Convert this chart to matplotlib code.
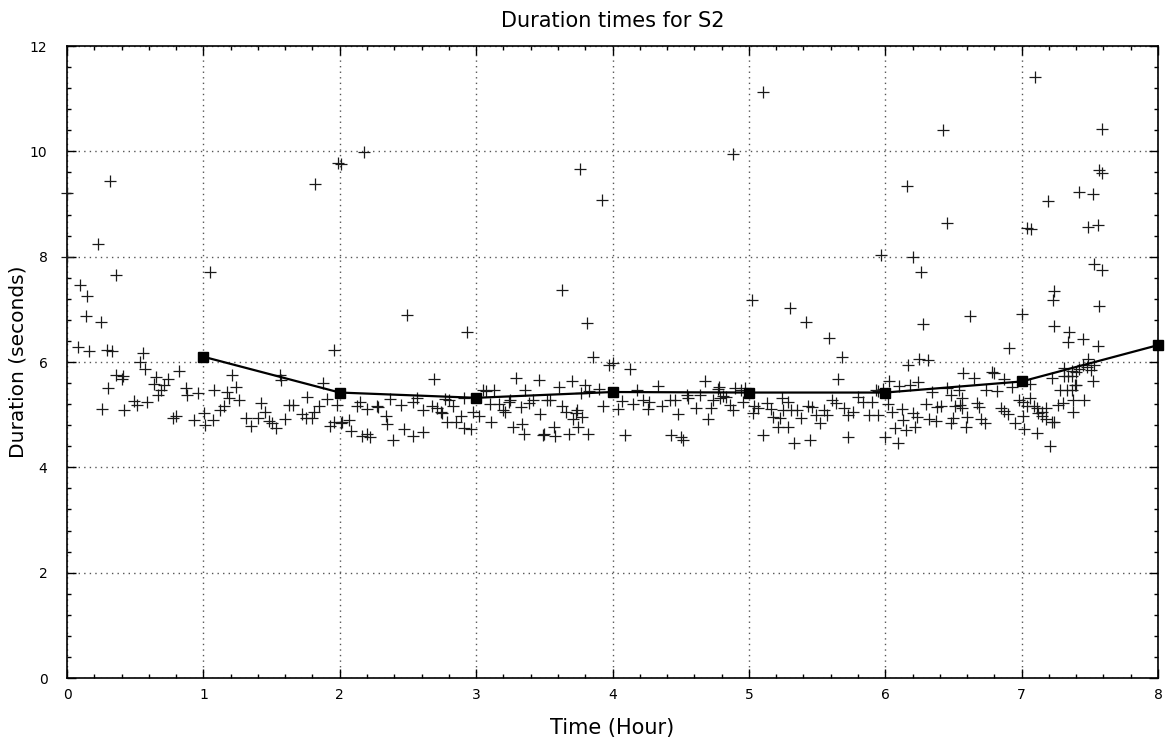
import matplotlib
matplotlib.use('Agg')
import matplotlib.pyplot as plt
from matplotlib.ticker import MultipleLocator

# hourly means
mean_x = [1, 2, 3, 4, 5, 6, 7, 8]
mean_y = [6.1, 5.42, 5.32, 5.43, 5.42, 5.42, 5.63, 6.32]

# individual durations (time in hours, duration in seconds)
pts = [
    # outliers
    (0.0, 9.2), (0.0, 8.0), (0.23, 8.25), (0.315, 9.43), (0.36, 7.65), (1.05, 7.71),
    (1.82, 9.38), (1.99, 9.78), (2.01, 9.76), (2.18, 9.98), (3.76, 9.67), (3.92, 9.07),
    (4.88, 9.95), (5.10, 11.13), (5.97, 8.03), (6.16, 9.35), (6.20, 8.0), (6.26, 7.71),
    (6.42, 10.41), (6.45, 8.64), (7.10, 11.41), (7.59, 10.43), (7.57, 9.65), (7.59, 9.59),
    (7.42, 9.23), (7.52, 9.19), (7.19, 9.05), (7.04, 8.54), (7.07, 8.53), (7.49, 8.57),
    (7.56, 8.61), (7.53, 7.87), (7.59, 7.75),
    # 0 - 1.6 h
    (0.095, 7.46), (0.15, 7.26), (0.14, 6.88), (0.25, 6.76), (0.083, 6.29), (0.16, 6.2),
    (0.29, 6.23), (0.33, 6.2), (0.56, 6.18), (0.535, 6.0), (0.575, 5.87), (0.36, 5.76),
    (0.41, 5.74), (0.40, 5.67), (0.30, 5.51), (0.26, 5.10), (0.42, 5.09), (0.49, 5.26),
    (0.51, 5.19), (0.59, 5.24), (0.65, 5.71), (0.74, 5.68), (0.64, 5.58), (0.71, 5.56),
    (0.69, 5.47), (0.67, 5.37), (0.82, 5.83), (0.87, 5.50), (0.88, 5.37), (0.96, 5.42),
    (0.78, 4.93), (0.80, 4.98), (0.93, 4.90), (1.005, 5.03), (1.01, 4.81), (1.07, 4.90),
    (1.08, 5.47), (1.17, 5.43), (1.21, 5.75), (1.24, 5.52), (1.19, 5.31), (1.26, 5.28),
    (1.12, 5.09), (1.15, 5.16), (1.31, 4.93), (1.35, 4.79), (1.42, 5.22), (1.45, 5.05),
    (1.40, 4.93), (1.48, 4.88), (1.50, 4.84), (1.53, 4.74), (1.56, 5.76), (1.57, 5.66),
    # 1.6 - 2 h
    (1.96, 6.22), (1.875, 5.61), (1.76, 5.33), (1.91, 5.30), (1.98, 5.19), (1.63, 5.19),
    (1.655, 5.19), (1.72, 5.01), (1.75, 4.94), (1.80, 4.94), (1.81, 5.06), (1.85, 5.16),
    (1.60, 4.92), (1.925, 4.78), (1.96, 4.86),
    # 2 - 3.2 h
    (2.49, 6.90), (2.93, 6.57), (2.69, 5.68), (2.01, 4.84), (2.02, 4.87), (2.07, 4.90),
    (2.08, 4.69), (2.16, 4.60), (2.2, 4.63), (2.22, 4.57), (2.125, 5.17), (2.15, 5.24),
    (2.20, 5.10), (2.27, 5.16), (2.28, 5.14), (2.34, 4.98), (2.345, 4.82), (2.39, 4.52),
    (2.37, 5.30), (2.45, 5.19), (2.47, 4.73), (2.535, 5.25), (2.57, 5.31), (2.54, 4.60),
    (2.61, 4.67), (2.61, 5.08), (2.68, 5.17), (2.71, 5.12), (2.74, 5.06), (2.75, 5.04),
    (2.77, 5.30), (2.80, 5.28), (2.83, 5.17), (2.79, 4.86), (2.85, 4.87), (2.89, 4.98),
    (2.91, 4.74), (2.96, 4.73), (2.91, 5.31), (2.98, 5.05), (3.02, 4.97), (3.05, 5.47),
    (3.07, 5.44), (3.13, 5.47), (3.11, 4.86), (3.10, 5.2), (3.17, 5.2), (3.20, 5.09),
    # 3.2 - 4.8 h
    (3.63, 7.36), (3.81, 6.74), (3.86, 6.10), (3.975, 5.95), (4.0, 5.99), (4.13, 5.87),
    (3.29, 5.70), (3.46, 5.66), (3.70, 5.64), (3.36, 5.47), (3.61, 5.52), (3.80, 5.56),
    (3.90, 5.49), (3.77, 5.41), (3.83, 5.44), (3.24, 5.24), (3.25, 5.28), (3.21, 5.05),
    (3.33, 5.14), (3.39, 5.22), (3.42, 5.28), (3.52, 5.28), (3.54, 5.27), (3.47, 5.01),
    (3.63, 5.16), (3.66, 5.06), (3.73, 5.04), (3.74, 5.09), (3.71, 4.92), (3.78, 4.95),
    (3.75, 4.77), (3.27, 4.77), (3.34, 4.82), (3.35, 4.63), (3.49, 4.62), (3.50, 4.63),
    (3.57, 4.77), (3.58, 4.60), (3.68, 4.63), (3.82, 4.63), (3.93, 5.16), (4.04, 5.11),
    (4.07, 5.26), (4.15, 5.2), (4.18, 5.46), (4.22, 5.28), (4.27, 5.25), (4.26, 5.11),
    (4.33, 5.54), (4.36, 5.17), (4.42, 5.28), (4.46, 5.28), (4.48, 5.01), (4.545, 5.38),
    (4.555, 5.31), (4.61, 5.12), (4.64, 5.37), (4.68, 5.64), (4.70, 4.92), (4.72, 5.12),
    (4.74, 5.28), (4.77, 5.49), (4.78, 5.52), (4.79, 5.31), (4.09, 4.62), (4.43, 4.62),
    (4.50, 4.57), (4.52, 4.52),
    # 4.8 - 6.4 h
    (5.02, 7.17), (5.30, 7.02), (5.42, 6.76), (5.59, 6.46), (5.68, 6.10), (5.65, 5.68),
    (6.28, 6.72), (6.17, 5.94), (6.25, 6.06), (6.31, 6.04), (6.03, 5.63), (6.10, 5.54),
    (6.18, 5.57), (6.24, 5.62), (6.34, 5.43), (6.30, 5.2), (6.38, 5.14), (6.32, 4.92),
    (6.37, 4.88), (4.81, 5.35), (4.83, 5.33), (4.90, 5.5), (4.94, 5.47), (4.97, 5.5),
    (4.86, 5.19), (4.88, 5.09), (4.955, 5.24), (5.04, 5.17), (5.07, 5.12), (5.03, 5.03),
    (5.13, 5.22), (5.16, 5.11), (5.18, 4.95), (5.21, 4.76), (5.23, 4.93), (5.245, 5.31),
    (5.29, 5.25), (5.25, 5.09), (5.31, 5.09), (5.35, 5.09), (5.29, 4.77), (5.10, 4.62),
    (5.33, 4.47), (5.38, 4.93), (5.43, 5.16), (5.46, 5.14), (5.49, 5.0), (5.52, 4.84),
    (5.55, 5.09), (5.57, 5.0), (5.45, 4.52), (5.61, 5.28), (5.64, 5.22), (5.70, 5.12),
    (5.73, 5.0), (5.76, 5.06), (5.73, 4.58), (5.80, 5.33), (5.84, 5.24), (5.90, 5.24),
    (5.88, 5.0), (5.95, 5.0), (5.93, 5.47), (5.95, 5.45), (5.98, 5.49), (6.02, 5.2),
    (6.0, 4.58), (6.05, 5.06), (6.12, 5.11), (6.13, 4.90), (6.07, 4.74), (6.15, 4.71),
    (6.09, 4.47), (6.20, 5.03), (6.23, 4.95), (6.22, 4.76),
    # 6.4 - 8 h
    (7.24, 7.35), (7.23, 7.17), (7.57, 7.06), (6.62, 6.87), (7.0, 6.92), (7.24, 6.68),
    (7.35, 6.57), (7.34, 6.38), (7.45, 6.43), (7.56, 6.31), (6.91, 6.27), (7.49, 6.06),
    (7.45, 5.95), (7.53, 5.95), (7.42, 5.87), (7.48, 5.90), (7.51, 5.85), (7.31, 5.89),
    (7.37, 5.82), (7.40, 5.81), (7.31, 5.73), (7.34, 5.73), (7.37, 5.73), (7.22, 5.70),
    (7.52, 5.64), (7.39, 5.57), (7.40, 5.56), (7.28, 5.47), (7.33, 5.47), (7.37, 5.47),
    (7.38, 5.28), (7.46, 5.28), (7.27, 5.19), (7.30, 5.22), (7.38, 5.06), (6.57, 5.79),
    (6.65, 5.70), (6.78, 5.81), (6.80, 5.80), (6.87, 5.68), (6.93, 5.52), (7.06, 5.58),
    (6.45, 5.5), (6.54, 5.47), (6.48, 5.38), (6.56, 5.31), (6.74, 5.47), (6.82, 5.44),
    (6.55, 5.19), (6.51, 5.16), (6.56, 5.12), (6.41, 5.16), (6.67, 5.22), (6.69, 5.14),
    (6.50, 4.93), (6.60, 4.95), (6.48, 4.84), (6.59, 4.77), (6.70, 4.92), (6.73, 4.84),
    (6.85, 5.12), (6.87, 5.07), (6.90, 5.01), (6.95, 4.84), (6.98, 5.28), (7.01, 5.25),
    (7.06, 5.31), (7.01, 4.98), (7.02, 4.72), (7.04, 5.17), (7.09, 5.17), (7.11, 5.12),
    (7.12, 5.03), (7.15, 5.06), (7.18, 5.12), (7.15, 4.97), (7.18, 4.92), (7.22, 4.87),
    (7.24, 4.86), (7.11, 4.65), (7.21, 4.41),
]
time_h = [p[0] for p in pts]
duration = [p[1] for p in pts]

fig = plt.figure(figsize=(11.66, 7.44), dpi=100)
ax = fig.add_axes([67 / 1166, 66 / 744, 1091 / 1166, 632 / 744])

ax.plot(time_h, duration, linestyle='none', marker='+', markersize=8.5,
        markeredgewidth=0.9, color='#1a1a1a', clip_on=False, zorder=3)
ax.plot(mean_x, mean_y, color='black', linewidth=1.6, marker='s',
        markersize=7, clip_on=False, zorder=4)

ax.set_xlim(0, 8)
ax.set_ylim(0, 12)
ax.xaxis.set_major_locator(MultipleLocator(1))
ax.xaxis.set_minor_locator(MultipleLocator(0.2))
ax.yaxis.set_major_locator(MultipleLocator(2))
ax.yaxis.set_minor_locator(MultipleLocator(0.4))
ax.tick_params(which='both', direction='in', top=True, right=True, width=1)
ax.tick_params(which='major', length=6.5, labelsize=10)
ax.tick_params(which='minor', length=3.2)
ax.tick_params(axis='x', which='major', pad=7)
ax.tick_params(axis='y', which='major', pad=14)

ax.grid(True, which='major', color='#555555', linestyle=(0, (1, 3)), linewidth=1)
for s in ax.spines.values():
    s.set_linewidth(1.2)

ax.set_title('Duration times for S2', fontsize=15, pad=14)
ax.set_xlabel('Time (Hour)', fontsize=15, labelpad=12)
ax.set_ylabel('Duration (seconds)', fontsize=14.5)
ax.yaxis.set_label_coords(-39 / 1091, 0.5)

plt.savefig('out.png', dpi=100)
